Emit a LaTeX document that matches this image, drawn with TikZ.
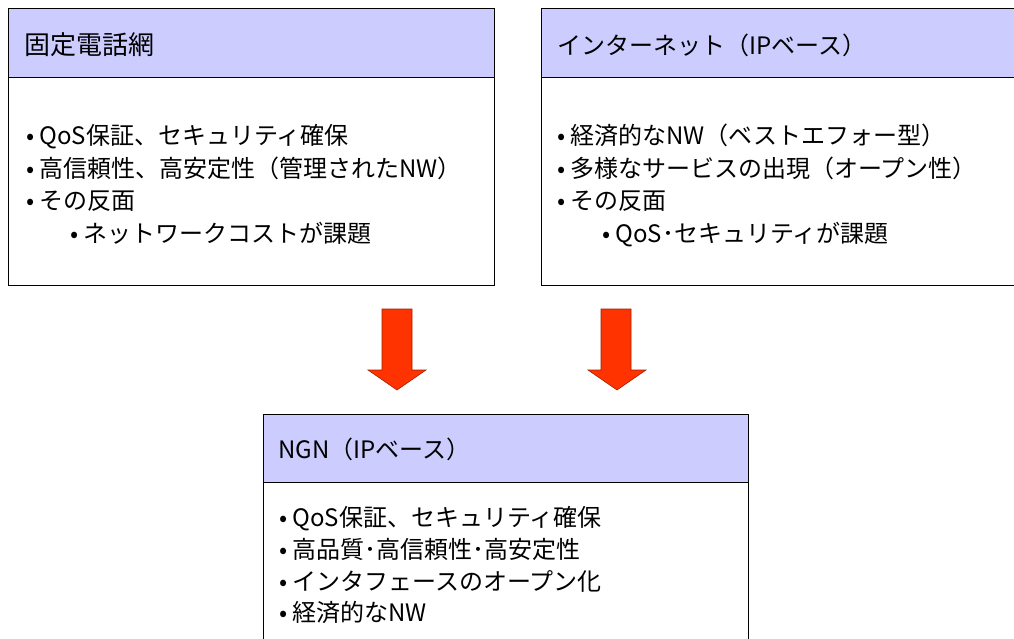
\documentclass[tikz,border=0pt]{standalone}
\usepackage{fontspec}
\setmainfont{Noto Sans CJK JP}
\definecolor{hdr}{HTML}{CCCCFF}
\definecolor{arr}{HTML}{FF3300}
\definecolor{arrline}{HTML}{A02000}
\begin{document}
\begin{tikzpicture}[x=1pt,y=-1pt,
  hbox/.style={draw=black,line width=0.9pt,fill=hdr},
  bbox/.style={draw=black,line width=0.9pt,fill=white},
  txt/.style={anchor=base west,inner sep=0pt,font=\fontsize{24}{28}\selectfont},
  htxt/.style={anchor=base west,inner sep=0pt,font=\fontsize{26}{30}\selectfont},
  bigarrow/.style={fill=arr,draw=arrline,line width=0.6pt}]
\useasboundingbox (0,0) rectangle (1014,639);
% left box
\path[bbox] (8,77) rectangle (494,285);
\path[hbox] (8,8) rectangle (494,77);
\node[htxt] (lh) at (24,55) {固定電話網};
\node[txt] (l1) at (26,145) {•\hspace{5pt}QoS保証、セキュリティ確保};
\node[txt] (l2) at (26,178) {•\hspace{5pt}高信頼性、高安定性（管理されたNW）};
\node[txt] (l3) at (26,210) {•\hspace{5pt}その反面};
\node[txt] (l4) at (70,242) {•\hspace{5pt}ネットワークコストが課題};
% right box
\path[bbox] (541,77) rectangle (1030,285);
\path[hbox] (541,8) rectangle (1030,77);
\node[txt] (rh) at (557,55) {インターネット（IPベース）};
\node[txt] (r1) at (557,145) {•\hspace{5pt}経済的なNW（ベストエフォー型）};
\node[txt] (r2) at (557,178) {•\hspace{5pt}多様なサービスの出現（オープン性）};
\node[txt] (r3) at (557,210) {•\hspace{5pt}その反面};
\node[txt] (r4) at (602,242) {•\hspace{5pt}QoS･セキュリティが課題};
% bottom box
\path[bbox] (263,650) -- (263,482) -- (748,482) -- (748,650);
\path[hbox] (263,414) rectangle (748,482);
\node[txt] (bh) at (278,458) {NGN（IPベース）};
\node[txt] (b1) at (279,526) {•\hspace{5pt}QoS保証、セキュリティ確保};
\node[txt] (b2) at (279,558) {•\hspace{5pt}高品質･高信頼性･高安定性};
\node[txt] (b3) at (279,590) {•\hspace{5pt}インタフェースのオープン化};
\node[txt] (b4) at (279,621) {•\hspace{5pt}経済的なNW};
% arrows
\path[bigarrow] (382,309) -- (412,309) -- (412,370) -- (426,370) -- (397,390) -- (368,370) -- (382,370) -- cycle;
\path[bigarrow] (601,309) -- (631,309) -- (631,370) -- (646,370) -- (617,390) -- (588,370) -- (601,370) -- cycle;
\end{tikzpicture}
\end{document}
